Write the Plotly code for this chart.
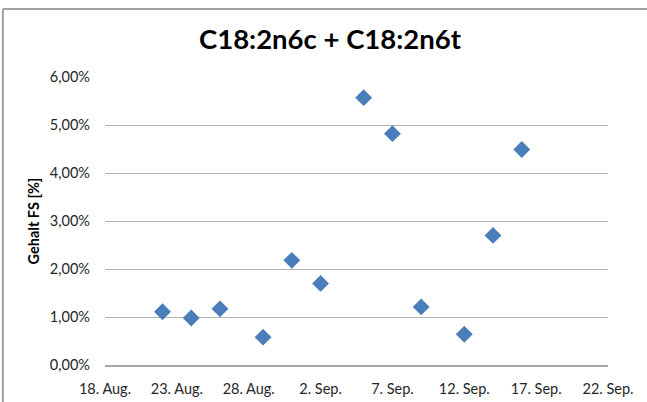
import plotly.graph_objects as go

dates = [
    "2013-08-22", "2013-08-24", "2013-08-26", "2013-08-29", "2013-08-31", "2013-09-02",
    "2013-09-05", "2013-09-07", "2013-09-09", "2013-09-12", "2013-09-14", "2013-09-16",
]
gehalt = [
    0.0111, 0.0098, 0.0117, 0.0058, 0.0218, 0.0170,
    0.0557, 0.0482, 0.0121, 0.0064, 0.0270, 0.0449,
]

title = "C18:2n6c + C18:2n6t"
yaxis_title = "Gehalt FS [%]"

fig = go.Figure()
fig.add_trace(go.Scatter(
    x=dates, y=gehalt, mode="markers",
    marker=dict(symbol="diamond", size=13, color="#4a7ebb", line=dict(width=0)),
))

fig.update_layout(
    width=647, height=402,
    margin=dict(l=105, r=39, t=77, b=37, autoexpand=False),
    paper_bgcolor="white", plot_bgcolor="white",
    font=dict(family="Lato, Liberation Sans, sans-serif", size=14.5, color="#262626"),
    separators=",.",
    showlegend=False,
    title=dict(text=title, x=0.51, xanchor="center", y=0.903, yanchor="middle",
               font=dict(size=27.5, color="black", weight="bold")),
    xaxis=dict(
        type="date",
        range=["2013-08-18", "2013-09-22"],
        tick0="2013-08-18", dtick=5 * 86400000,
        tickformat="%-d. %b.",
        showgrid=False, zeroline=False,
        showline=True, linecolor="#a6a6a6", linewidth=1.5,
        ticklabelstandoff=10,
        automargin=False,
    ),
    yaxis=dict(
        range=[0, 0.06], dtick=0.01, tickformat=".2%",
        showgrid=True, gridcolor="#b3b3b3", gridwidth=1.2,
        zeroline=False, showline=False,
        ticklabelstandoff=14,
        automargin=False,
        title=dict(text=yaxis_title, standoff=6, font=dict(size=14.5, weight="bold", color="black")),
    ),
    shapes=[
        dict(type="line", xref="paper", yref="paper", x0=-0.203, x1=1.08, y0=1.236, y1=1.236,
             line=dict(color="#a0a0a0", width=2)),
        dict(type="line", xref="paper", yref="paper", x0=-0.203, x1=-0.203, y0=1.236, y1=-0.14,
             line=dict(color="#a0a0a0", width=2)),
    ],
)

# page body has a default 8px margin, drop it so the chart sits at the window corner
fig.write_html("out.html", config={"displayModeBar": False},
               post_script="document.body.style.margin='0';")
